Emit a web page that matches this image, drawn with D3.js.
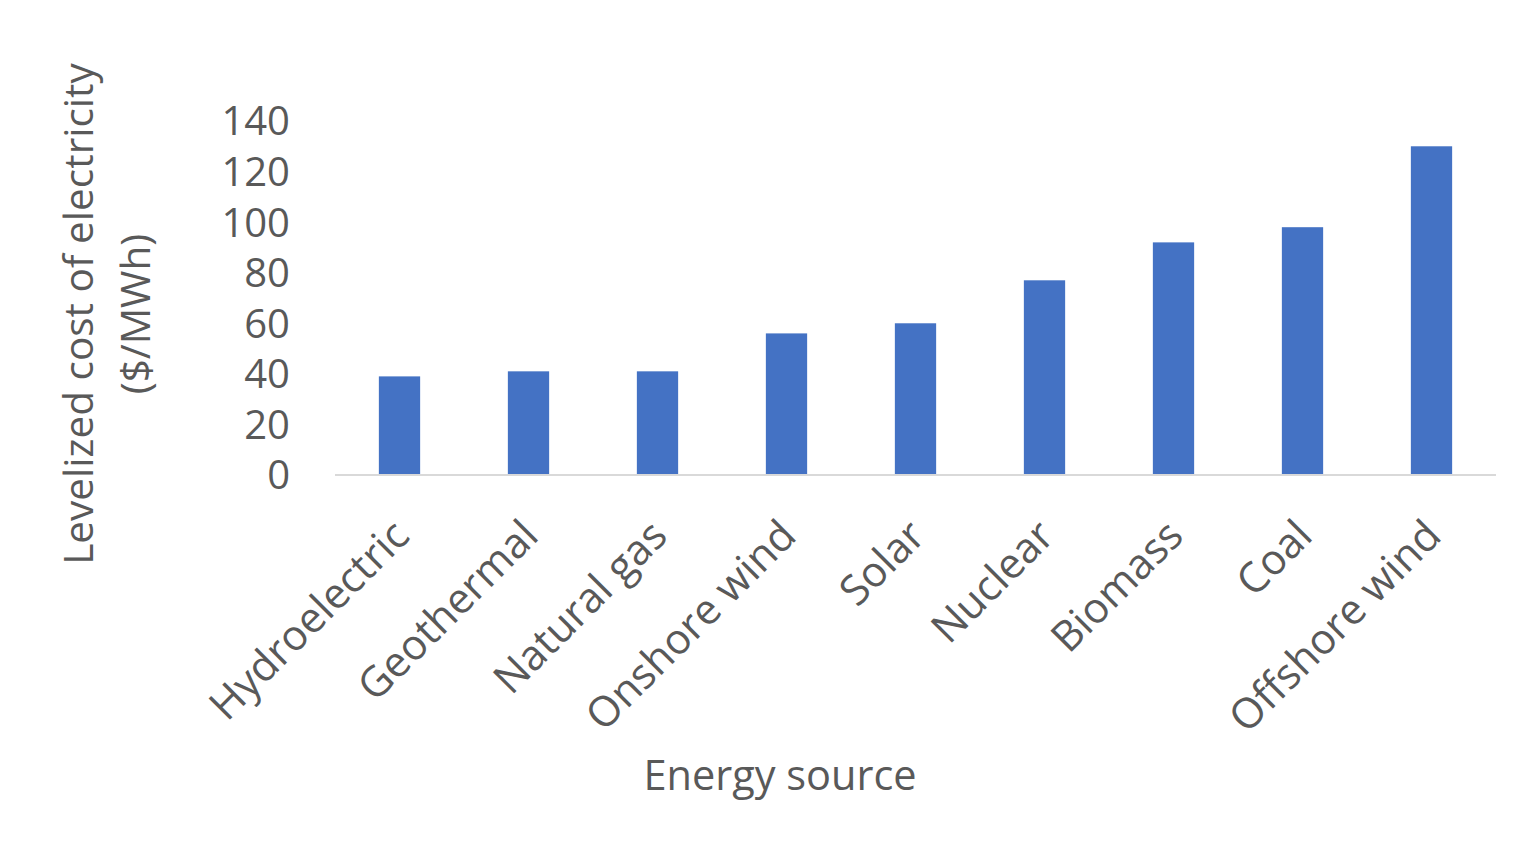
<!DOCTYPE html>
<html>
<head>
<meta charset="utf-8">
<script src="https://cdn.jsdelivr.net/npm/d3@7"></script>
<style>
  body { margin: 0; background: #fff; }
  text { font-family: 'Open Sans', sans-serif; fill: #595959; }
</style>
</head>
<body>
<svg width="1513" height="861"></svg>
<script>
// data
const sources = ['Hydroelectric', 'Geothermal', 'Natural gas', 'Onshore wind', 'Solar',
  'Nuclear', 'Biomass', 'Coal', 'Offshore wind'];
const costs = [39, 41, 41, 56, 60, 77, 92, 98, 130];
const yTicks = [0, 20, 40, 60, 80, 100, 120, 140];

const data = sources.map((s, i) => ({ name: s, cost: costs[i] }));

const svg = d3.select('svg');

// band scale, outer padding half of inner so step = width / n
const x = d3.scaleBand()
  .domain(sources)
  .range([335, 1496])
  .paddingInner(0.68)
  .paddingOuter(0.34);

const y = d3.scaleLinear()
  .domain([0, 140])
  .range([475, 121]);

// y tick labels (no axis line, no gridlines)
svg.selectAll('.ytick')
  .data(yTicks)
  .enter()
  .append('text')
  .attr('class', 'ytick')
  .attr('x', 290)
  .attr('y', (d) => y(d))
  .attr('dy', '0.36em')
  .attr('text-anchor', 'end')
  .style('font-size', '40px')
  .text((d) => d);

// bars
svg.selectAll('rect')
  .data(data)
  .enter()
  .append('rect')
  .attr('x', (d) => x(d.name))
  .attr('y', (d) => y(d.cost))
  .attr('width', x.bandwidth())
  .attr('height', (d) => y(0) - y(d.cost))
  .attr('fill', '#4472C4');

// category axis line
svg.append('line')
  .attr('x1', x.range()[0])
  .attr('x2', x.range()[1])
  .attr('y1', y(0))
  .attr('y2', y(0))
  .attr('stroke', '#D9D9D9')
  .attr('stroke-width', 2);

// rotated category labels
svg.selectAll('.xlabel')
  .data(sources)
  .enter()
  .append('text')
  .attr('class', 'xlabel')
  .attr('text-anchor', 'end')
  .attr('transform', (d) => `translate(${x(d) + x.bandwidth() / 2 + 12},${y(0) + 63}) rotate(-45)`)
  .style('font-size', '42px')
  .text((d) => d);

// axis titles
svg.append('text')
  .attr('x', 780)
  .attr('y', 790)
  .attr('text-anchor', 'middle')
  .style('font-size', '41.5px')
  .text('Energy source');

const yTitle = svg.append('text')
  .attr('transform', 'translate(93,314) rotate(-90)')
  .attr('text-anchor', 'middle')
  .style('font-size', '40.5px');
yTitle.append('tspan').attr('x', 0).attr('dy', 0).text('Levelized cost of electricity');
yTitle.append('tspan').attr('x', 0).attr('dy', '1.4em').text('($/MWh)');
</script>
</body>
</html>
